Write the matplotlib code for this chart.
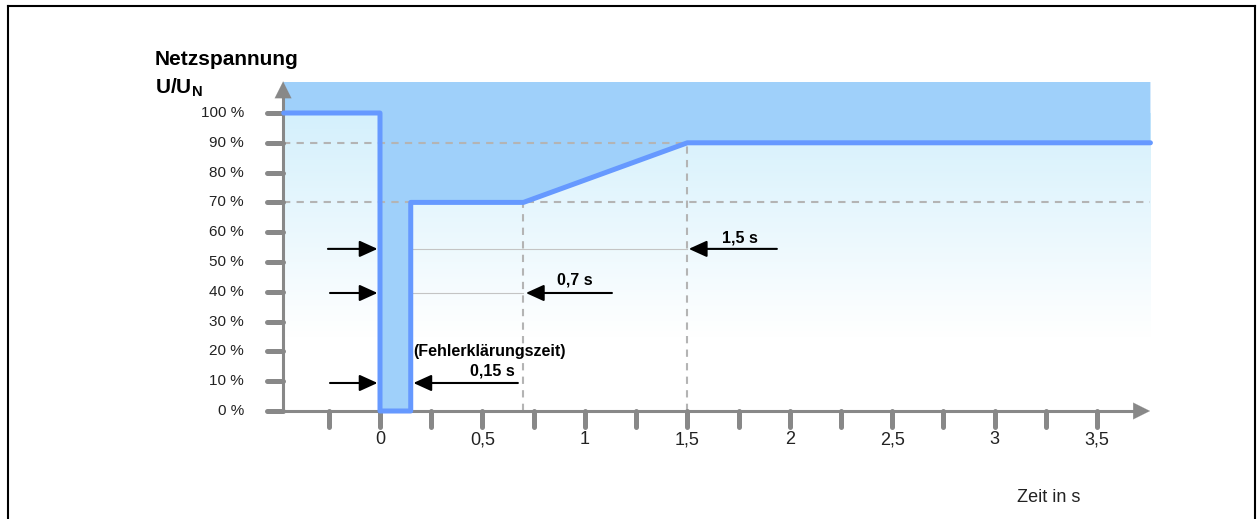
import numpy as np
import matplotlib
matplotlib.use('Agg')
import matplotlib.pyplot as plt
from matplotlib.lines import Line2D

plt.rcParams['font.family'] = ['Liberation Sans', 'DejaVu Sans']
plt.rcParams['mathtext.fontset'] = 'custom'
plt.rcParams['mathtext.bf'] = 'Liberation Sans:bold'
plt.rcParams['mathtext.rm'] = 'Liberation Sans'

# Daten der Grenzkurve
t_kurve = [-0.47, 0, 0, 0.15, 0.15, 0.7, 1.5, 3.76]
u_kurve = [100, 100, 0, 0, 70, 70, 90, 90]

y_ticks = [0, 10, 20, 30, 40, 50, 60, 70, 80, 90, 100]
y_labels = ['%d %%' % v for v in y_ticks]
x_ticks_major = [0, 0.5, 1, 1.5, 2, 2.5, 3, 3.5]
x_labels = ['0', '0,5', '1', '1,5', '2', '2,5', '3', '3,5']
x_ticks_minor = [-0.25, 0.25, 0.75, 1.25, 1.75, 2.25, 2.75, 3.25]

# Pfeile: (Ebene in %, Start t, Ende t)
pfeile = [
    (54.4, -0.254, -0.012),
    (39.6, -0.244, -0.012),
    (9.4, -0.244, -0.012),
    (9.4, 0.673, 0.163),
    (39.6, 1.132, 0.712),
    (54.4, 1.937, 1.507),
]
zeiten = ['0,15 s', '0,7 s', '1,5 s']

W, H = 1258, 519
fig = plt.figure(figsize=(W / 100, H / 100), dpi=100)
ax = fig.add_axes([0, 0, 1, 1])
px_s = 204.9
px_p = 2.98
ax.set_xlim((0 - 380) / px_s, (W - 380) / px_s)
ax.set_ylim((411 - H) / px_p, 411 / px_p)
ax.axis('off')

t_ax = -0.473
t_end = 3.76
u_top = 110.4

# Hintergrund mit Verlauf
oben = np.array([212, 240, 252]) / 255
unten = np.array([255, 255, 255]) / 255
n = 200
f = np.clip((np.linspace(1, 0, n) - 0.25) / 0.75, 0, 1)[:, None]
grad = unten * (1 - f) + oben * f
grad = np.repeat(grad[:, None, :], 2, axis=1)
ax.imshow(grad, extent=[t_ax, t_end, 0, 100], aspect='auto', zorder=0, interpolation='bilinear')

# Bereich oberhalb der Kurve
poly_t = list(t_kurve) + [t_end, t_ax]
poly_u = list(u_kurve) + [u_top, u_top]
ax.fill(poly_t, poly_u, color='#9fd0fa', lw=0, zorder=1)

# gestrichelte Hilfslinien
dash = dict(color='#b4b4b4', lw=1.5, ls=(0, (3.5, 3)), zorder=2)
ax.plot([t_ax, t_end], [90, 90], **dash)
ax.plot([t_ax, t_end], [70, 70], **dash)
ax.plot([0.7, 0.7], [0, 70], **dash)
ax.plot([1.5, 1.5], [0, 90], **dash)

# dünne Linien
ax.plot([0.16, 1.5], [54.4, 54.4], color='#c4c4c4', lw=0.8, zorder=2)
ax.plot([0.16, 0.7], [39.6, 39.6], color='#c4c4c4', lw=0.8, zorder=2)

# Achsen
grau = '#888888'
ax.plot([t_ax, 3.70], [0, 0], color=grau, lw=2.2, zorder=3)
ax.plot([t_ax, t_ax], [0, 106], color=grau, lw=2.2, zorder=3)
ax.annotate('', xy=(3.758, 0), xytext=(3.65, 0),
            arrowprops=dict(arrowstyle='-|>,head_length=0.6,head_width=0.3', mutation_scale=20,
                            color=grau, lw=0.1, shrinkA=0, shrinkB=0), zorder=3)
ax.annotate('', xy=(t_ax, 110.6), xytext=(t_ax, 104),
            arrowprops=dict(arrowstyle='-|>,head_length=0.6,head_width=0.3', mutation_scale=20,
                            color=grau, lw=0.1, shrinkA=0, shrinkB=0), zorder=3)

for v, lab in zip(y_ticks, y_labels):
    ax.plot([-0.551, t_ax], [v, v], color=grau, lw=3.6, solid_capstyle='round', zorder=3)
    ax.text(-0.664, v, lab, ha='right', va='center', fontsize=11, color='#222222')
for v, lab in zip(x_ticks_major, x_labels):
    ax.plot([v, v], [0, -5.4], color=grau, lw=3.6, solid_capstyle='round', zorder=3)
    ax.text(v, -9.6, lab, ha='center', va='center', fontsize=13, color='#222222')
for v in x_ticks_minor:
    ax.plot([v, v], [0, -5.4], color=grau, lw=3.6, solid_capstyle='round', zorder=3)

# Kurve
ax.plot(t_kurve, u_kurve, color='#6699ff', lw=3.6, solid_joinstyle='round',
        solid_capstyle='round', zorder=4)

# Pfeile
for u, t0, t1 in pfeile:
    ax.annotate('', xy=(t1, u), xytext=(t0, u),
                arrowprops=dict(arrowstyle='-|>,head_length=0.55,head_width=0.25', mutation_scale=20,
                                color='black', lw=1.5, shrinkA=0, shrinkB=0), zorder=5)

# Texte
ax.text(0.161, 19.8, '(Fehlerklärungszeit)', ha='left', va='center', fontsize=11.5, fontweight='bold')
ax.text(0.547, 13.4, zeiten[0], ha='center', va='center', fontsize=11.5, fontweight='bold')
ax.text(0.952, 44.0, zeiten[1], ha='center', va='center', fontsize=11.5, fontweight='bold')
ax.text(1.757, 58.0, zeiten[2], ha='center', va='center', fontsize=11.5, fontweight='bold')

ax.text(-1.098, 117.8, 'Netzspannung', ha='left', va='center', fontsize=15, fontweight='bold')
ax.text(-1.098, 108.4, r'$\mathbf{U/U_N}$', ha='left', va='center', fontsize=15)
ax.text(3.265, -28.9, 'Zeit in s', ha='center', va='center', fontsize=13, color='#222222')

# Rahmen
rahmen = dict(color='black', lw=1.5, transform=fig.transFigure)
fig.add_artist(Line2D([8 / W, 1255 / W], [1 - 6 / H, 1 - 6 / H], **rahmen))
fig.add_artist(Line2D([8 / W, 8 / W], [1 - 6 / H, 0], **rahmen))
fig.add_artist(Line2D([1255 / W, 1255 / W], [1 - 6 / H, 0], **rahmen))

fig.savefig('out.png', dpi=100)
